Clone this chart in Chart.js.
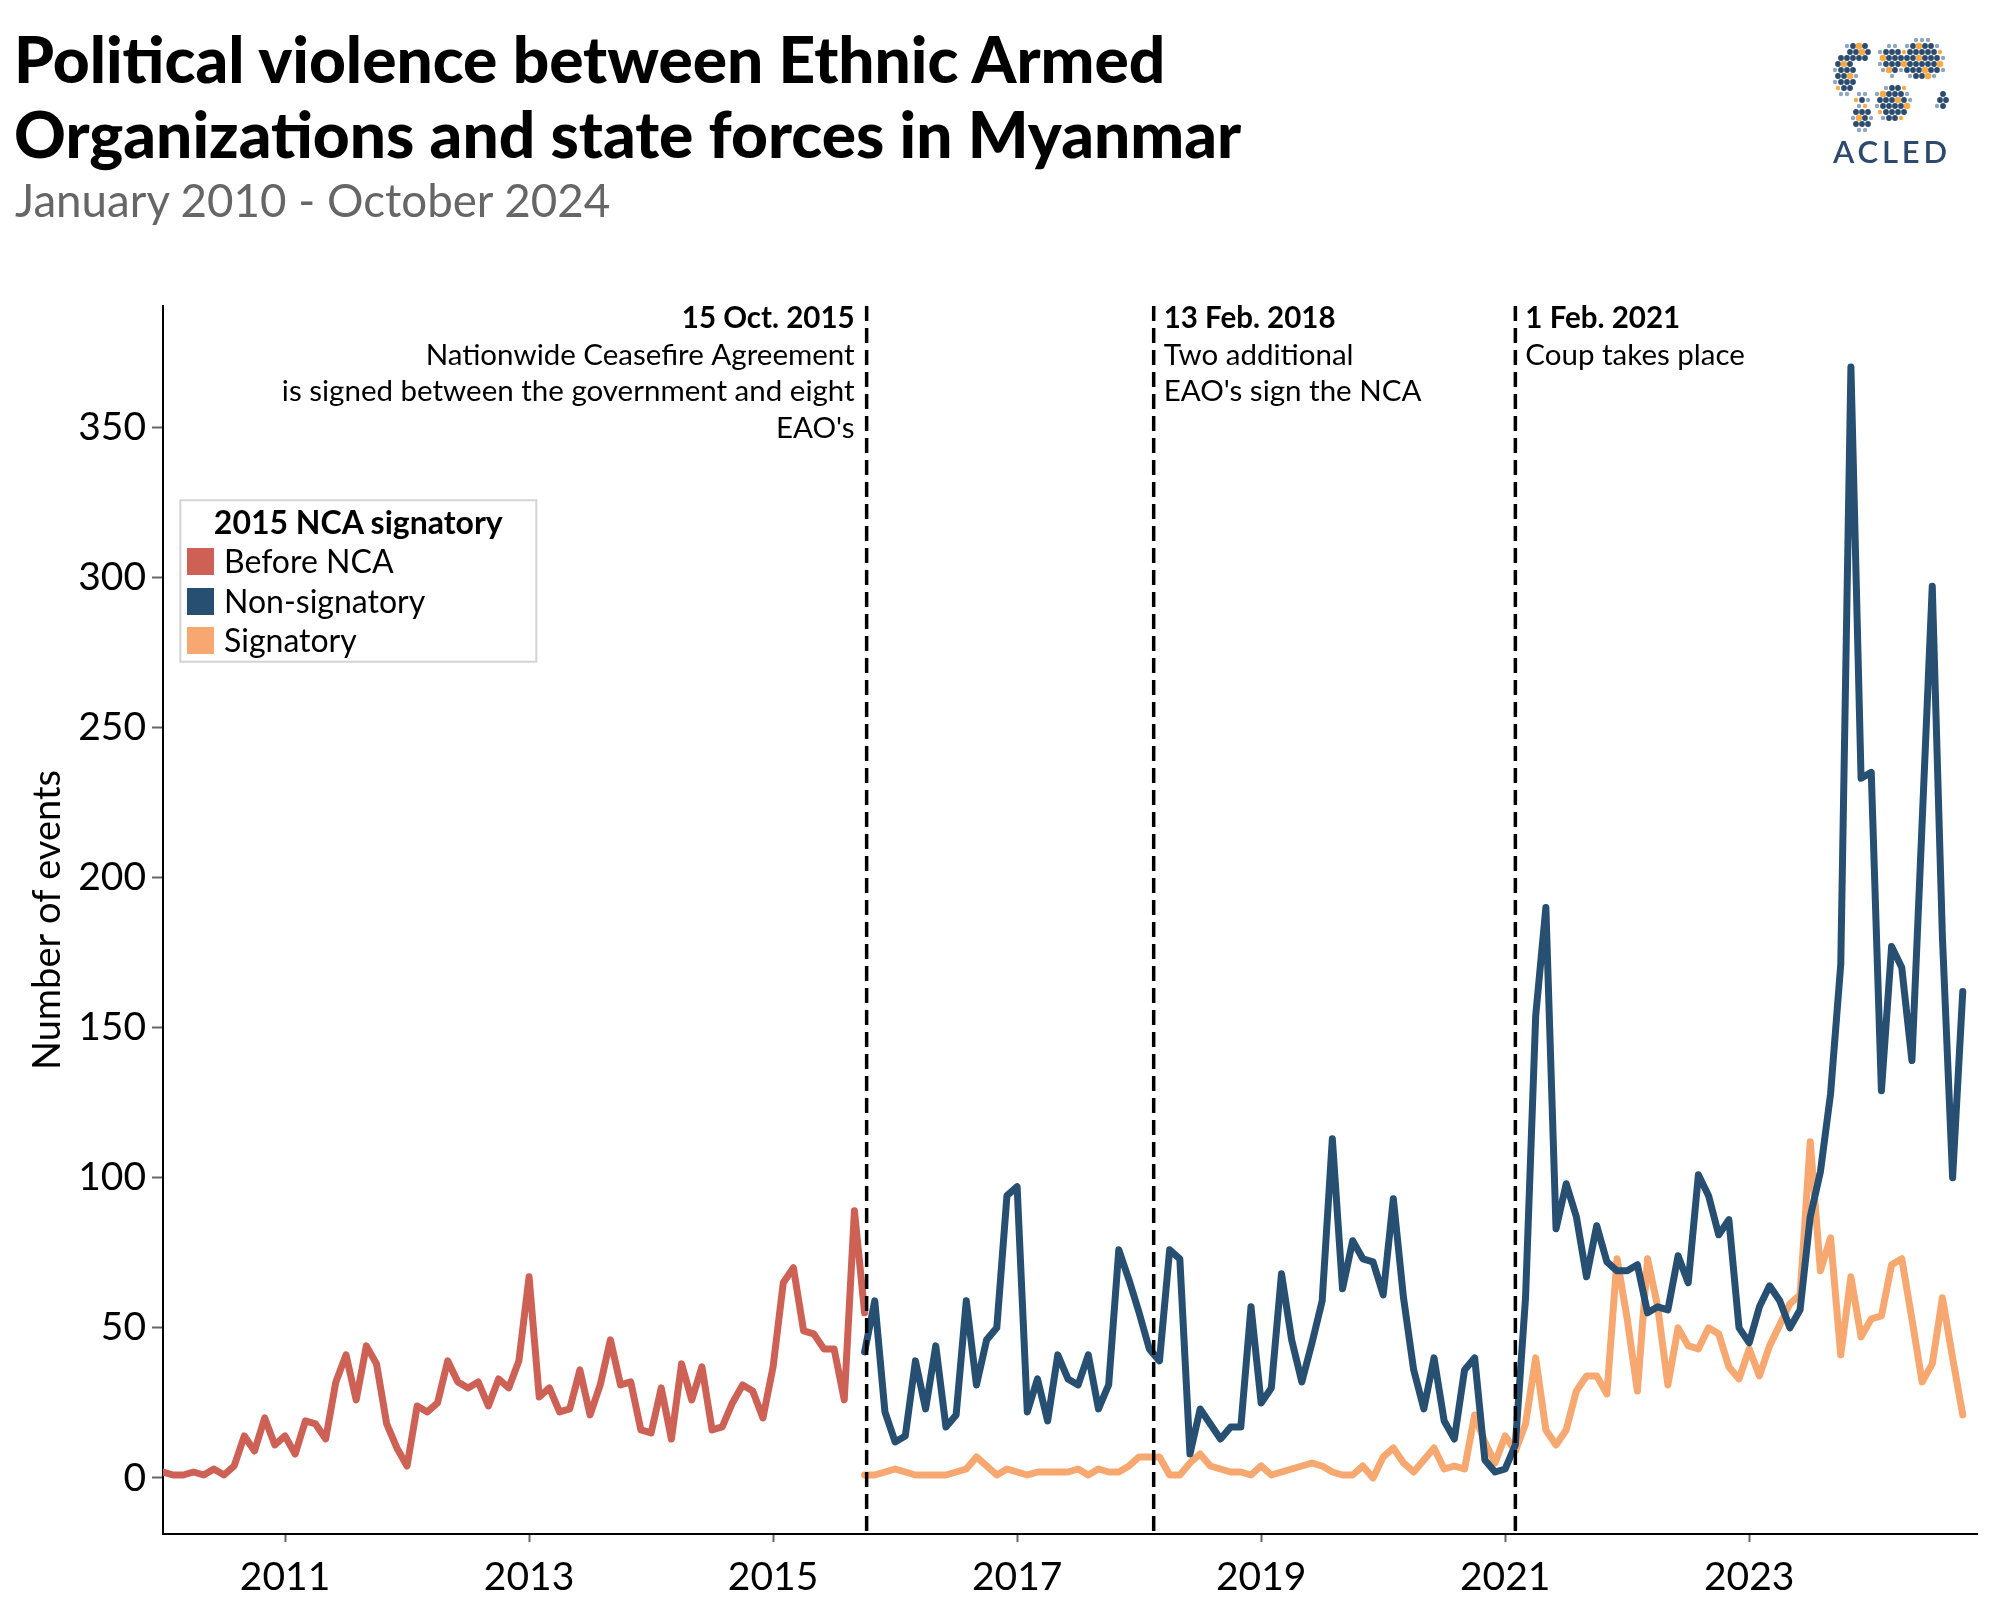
<!DOCTYPE html>
<html>
<head>
<meta charset="utf-8">
<script src="https://cdn.jsdelivr.net/npm/chart.js@4.4.1/dist/chart.umd.min.js"></script>
<style>
  html, body { margin: 0; padding: 0; background: #fff; }
  #wrap { position: relative; width: 2000px; height: 1600px; overflow: hidden; }
  #c { position: absolute; left: 0; top: 0; }
  #overlay { position: absolute; left: 0; top: 0; pointer-events: none; }
  #overlay text { font-family: Lato, "DejaVu Sans", sans-serif; }
</style>
</head>
<body>
<div id="wrap">
  <canvas id="c" width="2000" height="1600"></canvas>
  <svg id="overlay" width="2000" height="1600" xmlns="http://www.w3.org/2000/svg">
    <text x="14" y="83" font-size="64" font-weight="900" fill="#000">Political violence between Ethnic Armed</text>
    <text x="14" y="158" font-size="64" font-weight="900" fill="#000">Organizations and state forces in Myanmar</text>
    <text x="15" y="217" font-size="45.7" fill="#666666">January 2010 - October 2024</text>

    <g id="legend">
      <rect x="180.3" y="500.3" width="356" height="161.4" fill="#ffffff" stroke="#d3d3d3" stroke-width="2"></rect>
      <text x="358.3" y="534" text-anchor="middle" font-size="32" font-weight="bold" fill="#000">2015 NCA signatory</text>
      <rect x="187" y="548" width="27" height="27" fill="#CE6155"></rect>
      <text x="224" y="573" font-size="32" fill="#000">Before NCA</text>
      <rect x="187" y="588" width="27" height="27" fill="#264F72"></rect>
      <text x="224" y="613" font-size="32" fill="#000">Non-signatory</text>
      <rect x="187" y="627" width="27" height="27" fill="#F7A871"></rect>
      <text x="224" y="652" font-size="32" fill="#000">Signatory</text>
    </g>

    <g id="logo"></g>
    <text x="1833" y="163" font-size="31" font-weight="600" fill="#2c4a6c" textLength="114" lengthAdjust="spacing">ACLED</text>
  </svg>
</div>
<script>
// ---------------- DATA ----------------
const startYear = 2010;               // month index 0 = January 2010
const tickMonths = [12, 36, 60, 84, 108, 132, 156];
const tickLabels = ['2011', '2013', '2015', '2017', '2019', '2021', '2023'];
const yTicks = [0, 50, 100, 150, 200, 250, 300, 350];

// Before NCA: Jan 2010 - Oct 2015
const beforeNCA = [
  2, 1, 1, 2, 1, 3, 1, 4, 14, 9,
  20, 11, 14, 8, 19, 18, 13, 32, 41, 26,
  44, 38, 18, 10, 4, 24, 22, 25, 39, 32,
  30, 32, 24, 33, 30, 39, 67, 27, 30, 22,
  23, 36, 21, 31, 46, 31, 32, 16, 15, 30,
  13, 38, 26, 37, 16, 17, 25, 31, 29, 20,
  37, 65, 70, 49, 48, 43, 43, 26, 89, 55
];

// Oct 2015 - Oct 2024
const afterStart = 69;
const nonSignatory = [
  42, 59, 22, 12, 14, 39, 23, 44, 17, 21,
  59, 31, 46, 50, 94, 97, 22, 33, 19, 41,
  33, 31, 41, 23, 31, 76, 66, 55, 43, 39,
  76, 73, 8, 23, 18, 13, 17, 17, 57, 25,
  30, 68, 46, 32, 45, 59, 113, 63, 79, 73,
  72, 61, 93, 60, 36, 23, 40, 19, 13, 36,
  40, 6, 2, 3, 11, 60, 154, 190, 83, 98,
  87, 67, 84, 72, 69, 69, 71, 55, 57, 56,
  74, 65, 101, 94, 81, 86, 50, 45, 57, 64,
  59, 50, 56, 87, 102, 128, 171, 370, 233, 235,
  129, 177, 170, 139, 218, 297, 180, 100, 162
];
const signatory = [
  1, 1, 2, 3, 2, 1, 1, 1, 1, 2,
  3, 7, 4, 1, 3, 2, 1, 2, 2, 2,
  2, 3, 1, 3, 2, 2, 4, 7, 7, 7,
  1, 1, 5, 8, 4, 3, 2, 2, 1, 4,
  1, 2, 3, 4, 5, 4, 2, 1, 1, 4,
  0, 7, 10, 5, 2, 6, 10, 3, 4, 3,
  21, 12, 5, 14, 9, 18, 40, 16, 11, 16,
  29, 34, 34, 28, 73, 53, 29, 73, 57, 31,
  50, 44, 43, 50, 48, 37, 33, 43, 34, 44,
  51, 58, 61, 112, 69, 80, 41, 67, 47, 53,
  54, 71, 73, 53, 32, 38, 60, 40, 21
];

// Events (month index position on the time axis)
const eventMonths = [69.2, 97.43, 133];
const eventDates = ['15 Oct. 2015', '13 Feb. 2018', '1 Feb. 2021'];
const eventNotes = [
  ['Nationwide Ceasefire Agreement', 'is signed between the government and eight', "EAO's"],
  ['Two additional', "EAO's sign the NCA"],
  ['Coup takes place']
];
const eventSides = ['left', 'right', 'right'];

const seriesLabels = ['Before NCA', 'Non-signatory', 'Signatory'];
const seriesColors = ['#CE6155', '#264F72', '#F7A871'];

// ---------------- LOGO (decorative dot globe) ----------------
(function buildLogo() {
  const g = document.getElementById('logo');
  // [cx, cy, rx, ry] blobs roughly shaped like continents
  const blobs = [
    [1845, 74, 12, 22], [1858, 52, 13, 12], [1862, 100, 6, 7],
    [1862, 117, 10, 14], [1892, 60, 14, 16], [1922, 60, 24, 22],
    [1893, 103, 18, 21], [1942, 101, 6, 10]
  ];
  const ns = 'http://www.w3.org/2000/svg';
  let k = 0;
  for (let row = 0, y = 40; y <= 132; y += 6, row++) {
    for (let x = 1832 + (row % 2) * 3; x <= 1950; x += 6) {
      const d = Math.min(...blobs.map(b => ((x - b[0]) / b[2]) ** 2 + ((y - b[1]) / b[3]) ** 2));
      if (d > 1) continue;
      k++;
      const c = document.createElementNS(ns, 'circle');
      c.setAttribute('cx', x); c.setAttribute('cy', y);
      const orange = (k * 7) % 6 === 0;
      const edge = d > 0.65;
      c.setAttribute('r', edge ? 2.2 : (orange ? 3.3 : 2.9));
      c.setAttribute('fill', orange ? '#F5AA45' : (edge ? '#8fa6bf' : '#2b4b6f'));
      g.appendChild(c);
    }
  }
})();

// ---------------- CHART ----------------
const toPts = (arr, start) => arr.map((v, i) => ({ x: start + i, y: v }));

const eventPlugin = {
  id: 'events',
  afterDatasetsDraw(chart) {
    const { ctx, chartArea, scales: { x } } = chart;
    eventMonths.forEach((m, k) => {
      const px = x.getPixelForValue(m);
      ctx.save();
      ctx.strokeStyle = '#000';
      ctx.lineWidth = 3.5;
      ctx.setLineDash([15, 7]);
      ctx.beginPath();
      ctx.moveTo(px, chartArea.top);
      ctx.lineTo(px, chartArea.bottom);
      ctx.stroke();
      ctx.setLineDash([]);
      ctx.fillStyle = '#000';
      ctx.textBaseline = 'alphabetic';
      const left = eventSides[k] === 'left';
      ctx.textAlign = left ? 'right' : 'left';
      const tx = left ? px - 12 : px + 10;
      const base = 328;
      ctx.font = 'bold 29.5px Lato';
      ctx.fillText(eventDates[k], tx, base);
      ctx.font = '29.5px Lato';
      eventNotes[k].forEach((t, j) => ctx.fillText(t, tx, base + 36.5 * (j + 1)));
      ctx.restore();
    });
  }
};

function draw() {
  const ctx = document.getElementById('c').getContext('2d');
  new Chart(ctx, {
    type: 'line',
    data: {
      datasets: [
        { label: seriesLabels[0], data: toPts(beforeNCA, 0), borderColor: seriesColors[0] },
        { label: seriesLabels[1], data: toPts(nonSignatory, afterStart), borderColor: seriesColors[1] },
        { label: seriesLabels[2], data: toPts(signatory, afterStart), borderColor: seriesColors[2] }
      ]
    },
    options: {
      responsive: false,
      animation: false,
      devicePixelRatio: 1,
      layout: { padding: { left: 0, top: 306, right: 23, bottom: 0 } },
      plugins: { legend: { display: false }, tooltip: { enabled: false }, title: { display: false } },
      elements: {
        point: { radius: 0, hoverRadius: 0 },
        line: { borderWidth: 7, tension: 0, borderJoinStyle: 'round', borderCapStyle: 'round', fill: false }
      },
      scales: {
        x: {
          type: 'linear', min: 0, max: 178.4,
          afterBuildTicks: s => { s.ticks = tickMonths.map(v => ({ value: v })); },
          ticks: {
            callback: v => tickLabels[tickMonths.indexOf(v)],
            font: { family: 'Lato', size: 39 }, color: '#000',
            padding: 12, maxRotation: 0, autoSkip: false
          },
          grid: { drawOnChartArea: false, drawTicks: true, tickLength: 8, tickColor: '#666', tickWidth: 2 },
          border: { display: true, color: '#000', width: 2 },
          afterFit: s => { s.height = 66; }
        },
        y: {
          min: -18.65, max: 390.3,
          afterBuildTicks: s => { s.ticks = yTicks.map(v => ({ value: v })); },
          ticks: { font: { family: 'Lato', size: 39 }, color: '#000', padding: 6 },
          grid: { drawOnChartArea: false, drawTicks: true, tickLength: 11, tickColor: '#666', tickWidth: 2 },
          border: { display: true, color: '#000', width: 2 },
          title: { display: true, text: 'Number of events', font: { family: 'Lato', size: 38 }, color: '#000', padding: { top: 25, bottom: 0 } },
          afterFit: s => { s.width = 163; }
        }
      }
    },
    plugins: [eventPlugin]
  });
}

Promise.all([
  document.fonts.load('29.5px Lato'),
  document.fonts.load('bold 29.5px Lato'),
  document.fonts.load('39px Lato')
]).then(draw, draw);
</script>
</body>
</html>
